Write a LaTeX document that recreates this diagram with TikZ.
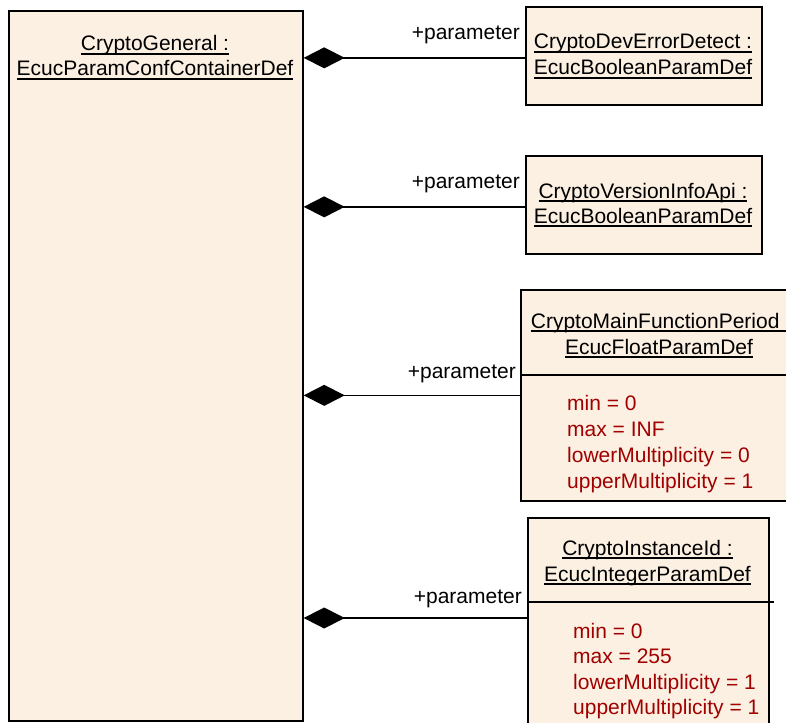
\documentclass[tikz,border=0pt]{standalone}
\usepackage{fontspec}
\setmainfont{Liberation Sans}
\usetikzlibrary{arrows.meta}

\definecolor{classfill}{RGB}{251,240,226}
\definecolor{attrred}{RGB}{160,0,0}

% underlined class title text
\newcommand{\ultitle}[1]{\setbox0\hbox{#1}\rlap{\rule[-3.6pt]{\wd0}{1.3pt}}\box0}

\tikzset{
  classbox/.style={draw, line width=1.7pt, fill=classfill, inner sep=0pt,
                   anchor=north west, rectangle},
  title/.style={anchor=base, inner sep=0pt, font=\fontsize{21}{25}\selectfont},
  attr/.style={anchor=base west, inner sep=0pt, text=attrred,
               font=\fontsize{21}{25}\selectfont},
  role/.style={anchor=base east, inner sep=0pt, font=\fontsize{21}{25}\selectfont},
  compo/.style={line width=1.7pt, -{Diamond[length=41pt,width=21pt]}},
  sepline/.style={line width=1.7pt}
}

\begin{document}
\begin{tikzpicture}[x=1pt,y=-1pt]
\useasboundingbox (0,0) rectangle (786,722);
\begin{scope}
\clip (0,0) rectangle (786,722);

% container on the left
\node[classbox, minimum width=294pt, minimum height=710pt] (gen) at (8,10) {};
\node[title] (gen1) at (155,51) {\ultitle{CryptoGeneral :}};
\node[title] (gen2) at (155,76) {\ultitle{EcucParamConfContainerDef}};

% boolean parameter: dev error detect
\node[classbox, minimum width=236pt, minimum height=98pt] (dev) at (525,6) {};
\node[title] (dev1) at (643,49) {\ultitle{CryptoDevErrorDetect :}};
\node[title] (dev2) at (643,75) {\ultitle{EcucBooleanParamDef}};

% boolean parameter: version info api
\node[classbox, minimum width=236pt, minimum height=98pt] (ver) at (525,155) {};
\node[title] (ver1) at (643,198) {\ultitle{CryptoVersionInfoApi :}};
\node[title] (ver2) at (643,223) {\ultitle{EcucBooleanParamDef}};

% float parameter: main function period
\node[classbox, minimum width=282pt, minimum height=211pt] (mfp) at (520,289) {};
\node[title] (mfp1) at (661,328) {\ultitle{CryptoMainFunctionPeriod :}};
\node[title] (mfp2) at (659,354) {\ultitle{EcucFloatParamDef}};
\draw[sepline] ([yshift=-86pt]mfp.north west) -- ([yshift=-86pt]mfp.north east);
\node[attr] (mfpa) at (567,410) {min = 0};
\node[attr] (mfpb) at (567,436) {max = INF};
\node[attr] (mfpc) at (567,462) {lowerMultiplicity = 0};
\node[attr] (mfpd) at (567,488) {upperMultiplicity = 1};

% integer parameter: instance id
\node[classbox, minimum width=241pt, minimum height=215pt] (inst) at (527,517) {};
\node[title] (inst1) at (647.5,555) {\ultitle{CryptoInstanceId :}};
\node[title] (inst2) at (647.5,581) {\ultitle{EcucIntegerParamDef}};
\draw[sepline] ([yshift=-85pt]inst.north west) -- ([xshift=4pt,yshift=-85pt]inst.north east);
\node[attr] (insta) at (573,638) {min = 0};
\node[attr] (instb) at (573,663) {max = 255};
\node[attr] (instc) at (573,689) {lowerMultiplicity = 1};
\node[attr] (instd) at (573,714) {upperMultiplicity = 1};

% composition connectors
\coordinate (c1) at ([yshift=-2pt]dev.west);
\coordinate (c2) at ([yshift=-2pt]ver.west);
\coordinate (c3) at (mfp.west);
\coordinate (c4) at (inst.west |- 0,618);
\draw[compo] (c1) -- (c1 -| gen.east);
\draw[compo] (c2) -- (c2 -| gen.east);
\draw[compo] (c3) -- (c3 -| gen.east);
\draw[compo] (c4) -- (c4 -| gen.east);

% role names
\node[role] (r1) at (520,40) {+parameter};
\node[role] (r2) at (520,188) {+parameter};
\node[role] (r3) at (516,378) {+parameter};
\node[role] (r4) at (522,603) {+parameter};
\end{scope}
\end{tikzpicture}
\end{document}
